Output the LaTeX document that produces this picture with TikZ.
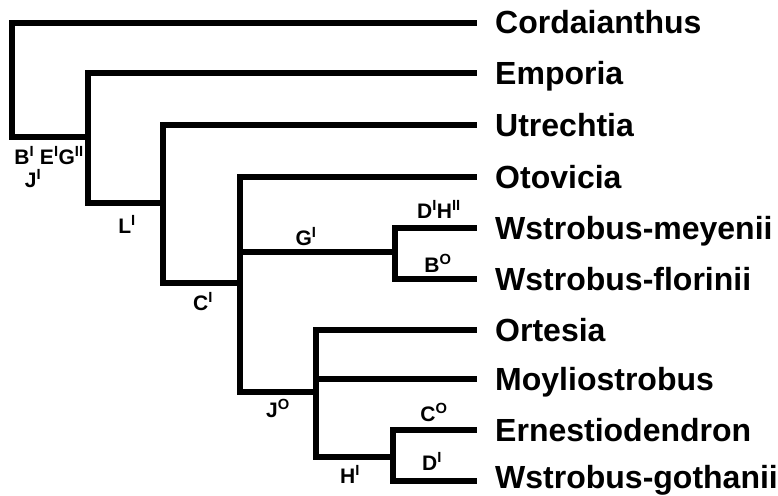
\documentclass[tikz,border=0pt]{standalone}
\usepackage{fontspec}
\setmainfont{Liberation Sans}

% character-state superscript
\newcommand{\chs}[1]{\textsuperscript{#1}}

\begin{document}
\begin{tikzpicture}[x=1pt,y=-1pt,
    taxon/.style={anchor=west,inner xsep=21pt,inner ysep=0pt,text height=22pt,text depth=0pt,
      font=\fontsize{32}{32}\selectfont\bfseries},
    apo/.style={inner sep=0pt,text height=15pt,text depth=0pt,
      font=\fontsize{21}{21}\selectfont\bfseries},
    branch/.style={line width=6pt,line cap=rect}]
    \useasboundingbox(0,0)rectangle(778,495);
    % terminal taxa
    \node[taxon](cord)at(474,23){Cordaianthus};
    \node[taxon](empo)at(474,73){Emporia};
    \node[taxon](utre)at(474,125){Utrechtia};
    \node[taxon](otov)at(474,177){Otovicia};
    \node[taxon](meye)at(474,228){Wstrobus-meyenii};
    \node[taxon](flor)at(474,279){Wstrobus-florinii};
    \node[taxon](orte)at(474,330){Ortesia};
    \node[taxon](moyl)at(474,379){Moyliostrobus};
    \node[taxon](erne)at(474,430){Ernestiodendron};
    \coordinate(tgoth)at(474,481);
    \node[taxon](goth)at([yshift=4pt]tgoth){Wstrobus-gothanii};
    % internal nodes
    \coordinate(root)at(12,137);
    \coordinate(nL)at(88,137);
    \coordinate(nC)at(163,203);
    \coordinate(nJ)at(240,283);
    \coordinate(nG)at(395,252);
    \coordinate(nH)at(316,392);
    \coordinate(nD)at(393,457);
    % branches
    \draw[branch](root)|-(cord.west);
    \draw[branch](root)--(nL);
    \draw[branch](nL)|-(empo.west);
    \draw[branch](nL)|-(nC);
    \draw[branch](nC)|-(utre.west);
    \draw[branch](nC)|-(nJ);
    \draw[branch](nJ)|-(otov.west);
    \draw[branch](nJ)|-(nG);
    \draw[branch](nJ)|-(nH);
    \draw[branch](nG)|-(meye.west);
    \draw[branch](nG)|-(flor.west);
    \draw[branch](nH)|-(orte.west);
    \draw[branch](nH)|-(moyl.west);
    \draw[branch](nH)|-(nD);
    \draw[branch](nD)|-(erne.west);
    \draw[branch](nD)|-(tgoth);
    % character states
    \node[apo](sBEG)at(49,157){B\chs{I} E\chs{I}G\chs{II}};
    \node[apo](sJ)at(33,180){J\chs{I}};
    \node[apo](sL)at(127,226){L\chs{I}};
    \node[apo](sC)at(203,303){C\chs{I}};
    \node[apo](sG)at(306,238){G\chs{I}};
    \node[apo](sDH)at(439,211){D\chs{I}H\chs{II}};
    \node[apo](sB)at(438,265){B\chs{O}};
    \node[apo](sJo)at(278,410){J\chs{O}};
    \node[apo](sH)at(350,476){H\chs{I}};
    \node[apo](sCo)at(434,414){C\chs{O}};
    \node[apo](sD)at(432,463){D\chs{I}};
\end{tikzpicture}
\end{document}
